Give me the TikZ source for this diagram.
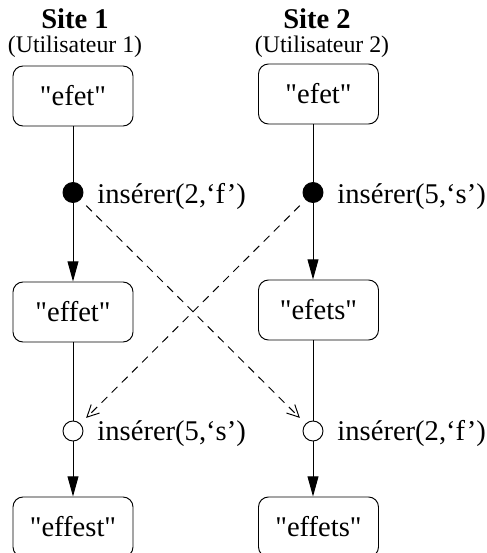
\documentclass[tikz,border=0pt]{standalone}
\usepackage{fontspec}
\setmainfont{Liberation Serif}
\usetikzlibrary{arrows.meta}
\newcommand{\chaine}[1]{\textquotedbl#1\textquotedbl}

\begin{document}
\begin{tikzpicture}[x=0.42pt, y=-0.42pt,
		etat/.style={draw, rounded corners=4.2pt, minimum width=50.4pt, minimum height=25.2pt, inner sep=0pt, font=\fontsize{12}{14}\selectfont},
		envoi/.style={circle, draw, fill=black, minimum size=8.4pt, inner sep=0pt},
		recu/.style={circle, draw, fill=white, minimum size=8.4pt, inner sep=0pt},
		op/.style={anchor=base west, inner sep=0pt, font=\fontsize{12}{14}\selectfont},
		fleche/.style={-{Triangle[length=8.5pt, width=4.6pt]}},
		distant/.style={dash pattern=on 3.4pt off 2.6pt, -{Straight Barb[length=5pt, width=5pt]}, shorten <=3.4pt, shorten >=3.4pt}]
		\clip (0,0) rectangle (486,553);
		\node[font=\bfseries\fontsize{12}{14}\selectfont, anchor=base] (site1) at (75,29) {Site 1};
		\node[font=\bfseries\fontsize{12}{14}\selectfont, anchor=base] (site2) at (317,29) {Site 2};
		\node[font=\fontsize{10}{12}\selectfont, anchor=base] (user1) at (75,53) {(Utilisateur 1)};
		\node[font=\fontsize{10}{12}\selectfont, anchor=base] (user2) at (322,53) {(Utilisateur 2)};
		
		\node[etat] (initial1) at (73,96) {\chaine{efet}};
		\node[etat] (initial2) at (318.5,94) {\chaine{efet}};
		\node[etat] (apres1) at (73,312) {\chaine{effet}};
		\node[etat] (apres2) at (318.5,310) {\chaine{efets}};
		\node[etat] (final1) at (73,527) {\chaine{effest}};
		\node[etat] (final2) at (318.5,527) {\chaine{effets}};
		
		\node[envoi] (ins1) at (73,192.5) {};
		\node[envoi] (ins2) at (313,192.5) {};
		\node[recu] (int1) at (73,431) {};
		\node[recu] (int2) at (313,431) {};
		\node[op] (lins1) at (97,203) {insérer(2,‘f’)};
		\node[op] (lins2) at (337,203) {insérer(5,‘s’)};
		\node[op] (lint1) at (97,440) {insérer(5,‘s’)};
		\node[op] (lint2) at (337,440) {insérer(2,‘f’)};
		
		\draw (initial1.south -| ins1) -- (ins1);
		\draw[fleche] (ins1) -- (ins1 |- apres1.north);
		\draw (apres1.south -| int1) -- (int1);
		\draw[fleche] (int1) -- (int1 |- final1.north);
		\draw (initial2.south -| ins2) -- (ins2);
		\draw[fleche] (ins2) -- (ins2 |- apres2.north);
		\draw (apres2.south -| int2) -- (int2);
		\draw[fleche] (int2) -- (int2 |- final2.north);
		
		\draw[distant] (ins1) -- (int2);
		\draw[distant] (ins2) -- (int1);
	\end{tikzpicture}
\end{document}
